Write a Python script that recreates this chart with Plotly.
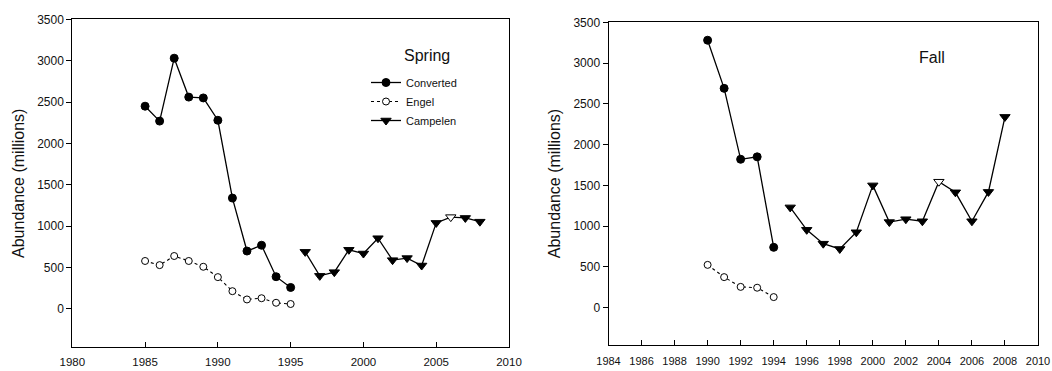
import plotly.graph_objects as go

# ---------------- data ----------------
spring_conv_years = list(range(1985, 1996))
spring_conv = [2450, 2270, 3030, 2560, 2550, 2280, 1340, 700, 770, 390, 260]
spring_engel_years = list(range(1985, 1996))
spring_engel = [580, 530, 640, 580, 510, 385, 215, 115, 130, 75, 60]
spring_camp_years = list(range(1996, 2009))
spring_camp = [690, 400, 445, 715, 670, 855, 590, 615, 525, 1040, 1110, 1100, 1055]
spring_camp_open = [2006]

fall_conv_years = list(range(1990, 1995))
fall_conv = [3280, 2690, 1820, 1850, 740]
fall_engel_years = list(range(1990, 1995))
fall_engel = [525, 375, 255, 245, 130]
fall_camp_years = list(range(1995, 2009))
fall_camp = [1230, 955, 785, 720, 925, 1500, 1050, 1085, 1060, 1545, 1415, 1060, 1420, 2340]
fall_camp_open = [2004]

y_ticks = [0, 500, 1000, 1500, 2000, 2500, 3000, 3500]
spring_x_ticks = [1980, 1985, 1990, 1995, 2000, 2005, 2010]
fall_x_ticks = list(range(1984, 2011, 2))

FONT = "Liberation Sans, Arial, sans-serif"

fig = go.Figure()


def add_panel(xa, ya, cy, cv, ey, ev, py, pv, popen, legend):
    fig.add_trace(go.Scatter(
        x=cy, y=cv, mode="lines+markers", name="Converted",
        xaxis=xa, yaxis=ya, showlegend=legend,
        line=dict(color="black", width=1.3),
        marker=dict(symbol="circle", size=8, color="black",
                    line=dict(color="black", width=1))))
    fig.add_trace(go.Scatter(
        x=ey, y=ev, mode="lines+markers", name="Engel",
        xaxis=xa, yaxis=ya, showlegend=legend,
        line=dict(color="black", width=1.1, dash="dot"),
        marker=dict(symbol="circle", size=7, color="white",
                    line=dict(color="black", width=1))))
    fig.add_trace(go.Scatter(
        x=py, y=pv, mode="lines+markers", name="Campelen",
        xaxis=xa, yaxis=ya, showlegend=legend,
        line=dict(color="black", width=1.3),
        marker=dict(symbol="triangle-down", size=9,
                    color=["white" if yr in popen else "black" for yr in py],
                    line=dict(color="black", width=1))))


add_panel("x", "y", spring_conv_years, spring_conv, spring_engel_years, spring_engel,
          spring_camp_years, spring_camp, spring_camp_open, True)
add_panel("x2", "y2", fall_conv_years, fall_conv, fall_engel_years, fall_engel,
          fall_camp_years, fall_camp, fall_camp_open, False)

W, H = 1052, 371

axis_common = dict(showline=True, linecolor="black", linewidth=1, mirror=True,
                   showgrid=False, zeroline=False, automargin=False,
                   ticklen=5, tickcolor="black", tickwidth=1)

tf12 = dict(family=FONT, size=12, color="#111")
tfx = dict(family=FONT, size=11.5, color="#111")
tf11 = dict(family=FONT, size=11, color="#111")
title_font = dict(family=FONT, size=16, color="#111")

fig.update_layout(
    width=W, height=H,
    margin=dict(l=0, r=0, t=0, b=0),
    paper_bgcolor="white", plot_bgcolor="white",
    font=dict(family=FONT, color="black"),
    xaxis=dict(domain=[72.3 / W, 509 / W], range=[1980, 2010],
               tickvals=spring_x_ticks, ticks="inside", tickfont=tfx,
               ticklabelstandoff=4, **axis_common),
    yaxis=dict(domain=[(H - 347.3) / H, (H - 19.3) / H], range=[-463, 3500],
               tickvals=y_ticks, ticks="outside", tickfont=tf12,
               title=dict(text="Abundance (millions)", font=title_font, standoff=8),
               **axis_common),
    xaxis2=dict(domain=[608.5 / W, 1038 / W], range=[1984, 2010],
                tickvals=fall_x_ticks, ticks="inside", anchor="y2", tickfont=tf11,
                ticklabelstandoff=6, **axis_common),
    yaxis2=dict(domain=[(H - 344.7) / H, (H - 22.3) / H], range=[-454, 3500],
                tickvals=y_ticks, ticks="outside", anchor="x2", tickfont=tf12,
                title=dict(text="Abundance (millions)", font=title_font, standoff=8),
                **axis_common),
    legend=dict(x=366 / W, y=(H - 68) / H, xanchor="left", yanchor="top",
                bgcolor="rgba(0,0,0,0)", font=dict(family=FONT, size=11, color="#111"),
                itemwidth=30, tracegroupgap=0),
    annotations=[
        dict(text="Spring", x=427 / W, y=(H - 45) / H, xref="paper", yref="paper",
             showarrow=False, font=dict(family=FONT, size=16, color="#111")),
        dict(text="Fall", x=947 / W, y=(H - 47) / H, xref="paper", yref="paper",
             showarrow=False, font=dict(family=FONT, size=16, color="#111")),
    ],
)

fig.write_html("out.html")
